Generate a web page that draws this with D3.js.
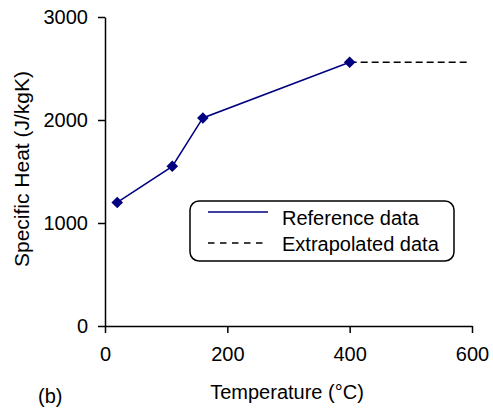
<!DOCTYPE html>
<html>
<head>
<meta charset="utf-8">
<script src="https://cdn.jsdelivr.net/npm/d3@7"></script>
<style>
  html, body { margin: 0; padding: 0; background: #fff; }
  svg { display: block; font-family: "Liberation Sans", Arial, sans-serif; }
</style>
</head>
<body>
<svg id="chart" width="493" height="410"></svg>
<script>
// Data
const referenceTemps = [20, 110, 160, 400];
const referenceHeat = [1200, 1550, 2020, 2560];
const extrapolatedTemps = [400, 595];
const extrapolatedHeat = [2560, 2560];
const xTicks = [0, 200, 400, 600];
const yTicks = [0, 1000, 2000, 3000];
const legendLabels = ["Reference data", "Extrapolated data"];

const svg = d3.select("#chart");
const x = d3.scaleLinear().domain([0, 600]).range([105, 472]);
const y = d3.scaleLinear().domain([0, 3000]).range([326, 17]);

const fs = 20;

// Axes
const xAxis = svg.append("g").attr("transform", `translate(0,${y(0)})`)
  .call(d3.axisBottom(x).tickValues(xTicks).tickFormat(d3.format("d")).tickSize(7).tickPadding(8).tickSizeOuter(0));
const yAxis = svg.append("g").attr("transform", `translate(${x(0)},0)`)
  .call(d3.axisLeft(y).tickValues(yTicks).tickFormat(d3.format("d")).tickSize(7).tickPadding(10).tickSizeOuter(0));
[xAxis, yAxis].forEach(g => {
  g.select(".domain").attr("stroke", "#000").attr("stroke-width", 1.5);
  g.selectAll(".tick line").attr("stroke", "#000").attr("stroke-width", 1.5);
  g.selectAll(".tick text").attr("fill", "#000").style("font-size", fs + "px")
    .style("font-family", "'Liberation Sans', Arial, sans-serif");
});
xAxis.selectAll(".tick text").attr("dy", "0.71em").attr("y", 21);

// Lines
const refData = referenceTemps.map((t, i) => [t, referenceHeat[i]]);
const extData = extrapolatedTemps.map((t, i) => [t, extrapolatedHeat[i]]);
const line = d3.line().x(d => x(d[0])).y(d => y(d[1]));

svg.append("path").datum(extData).attr("d", line)
  .attr("fill", "none").attr("stroke", "#000").attr("stroke-width", 1.6)
  .attr("stroke-dasharray", "7,4");
svg.append("path").datum(refData).attr("d", line)
  .attr("fill", "none").attr("stroke", "#000080").attr("stroke-width", 1.5);

// Markers (diamonds)
svg.selectAll(".marker").data(refData).enter().append("path")
  .attr("class", "marker")
  .attr("d", d3.symbol().type(d3.symbolDiamond2).size(85))
  .attr("transform", d => `translate(${x(d[0])},${y(d[1])})`)
  .attr("fill", "#000080");

// Axis titles
svg.append("text").attr("x", 287).attr("y", 399).attr("text-anchor", "middle")
  .style("font-size", fs + "px").text("Temperature (°C)");
svg.append("text").attr("transform", "translate(29,169) rotate(-90)").attr("text-anchor", "middle")
  .style("font-size", "21px").text("Specific Heat (J/kgK)");
svg.append("text").attr("x", 38).attr("y", 403)
  .style("font-size", fs + "px").text("(b)");

// Legend
const lg = svg.append("g");
lg.append("rect").attr("x", 190).attr("y", 201).attr("width", 264).attr("height", 60)
  .attr("rx", 9).attr("ry", 9).attr("fill", "#fff").attr("stroke", "#000").attr("stroke-width", 1.5);
lg.append("line").attr("x1", 208).attr("x2", 268).attr("y1", 212).attr("y2", 212)
  .attr("stroke", "#000080").attr("stroke-width", 1.5);
lg.append("line").attr("x1", 208).attr("x2", 268).attr("y1", 243).attr("y2", 243)
  .attr("stroke", "#000").attr("stroke-width", 1.5).attr("stroke-dasharray", "6.5,5.5");
lg.selectAll(".lt").data(legendLabels).enter().append("text")
  .attr("x", 282).attr("y", (d, i) => 225 + i * 26)
  .style("font-size", fs + "px").text(d => d);
</script>
</body>
</html>
